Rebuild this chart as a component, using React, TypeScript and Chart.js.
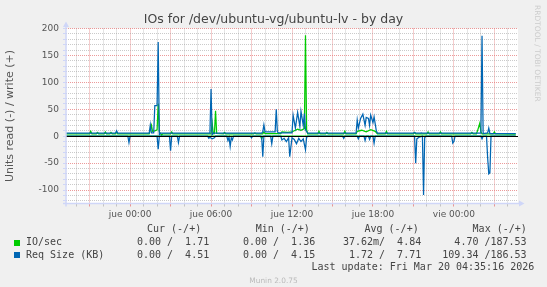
import React, { useEffect, useRef } from "react";
import { Chart, registerables } from "chart.js";

Chart.register(...registerables);

// x axis: minutes relative to "jue 00:00"
const X_MIN = -285;
const X_MAX = 1725;
const Y_MIN = -125;
const Y_MAX = 200;

const TITLE = "IOs for /dev/ubuntu-vg/ubuntu-lv - by day";
const Y_TITLE = "Units read (-) / write (+)";
const SIDE_TEXT = "RRDTOOL / TOBI OETIKER";
const LAST_UPDATE = "Last update: Fri Mar 20 04:35:16 2026";
const VERSION = "Munin 2.0.75";

const xLabelMinutes = [0, 360, 720, 1080, 1440];
const xLabelTexts = ["jue 00:00", "jue 06:00", "jue 12:00", "jue 18:00", "vie 00:00"];
const yLabelValues = [-100, -50, 0, 50, 100, 150, 200];

const legendHeaders = ["Cur (-/+)", "Min (-/+)", "Avg (-/+)", "Max (-/+)"];
const seriesNames = ["IO/sec", "Req Size (KB)"];
const curValues = ["0.00 /  1.71", "0.00 /  4.51"];
const minValues = ["0.00 /  1.36", "0.00 /  4.15"];
const avgValues = ["37.62m/  4.84", "1.72 /  7.71"];
const maxValues = ["4.70 /187.53", "109.34 /186.53"];

// [minute, value]
const ioWrite: [number, number][] = [
  [-285, 4.5], [-180, 4.5], [-175, 9], [-170, 4.5], [-150, 4.5], [-145, 7], [-140, 4.5],
  [-115, 4.5], [-110, 8], [-105, 4.5], [-90, 4.5], [-85, 7], [-80, 4.5], [-65, 4.5], [-60, 8],
  [-55, 4.5], [85, 4.5], [90, 12], [95, 20], [100, 9], [110, 10], [120, 12], [125, 60], [130, 8],
  [140, 2], [145, 4.5], [180, 4.5], [185, 8], [190, 4.5], [360, 4.5], [365, 24], [370, 5],
  [375, 5], [380, 47], [385, 5], [415, 4.5], [420, 7], [425, 4.5], [550, 4.5], [555, 6],
  [560, 4.5], [590, 4.5], [595, 8], [600, 5], [670, 5], [675, 8], [700, 7], [720, 8], [730, 10],
  [745, 13], [760, 11], [775, 14], [780, 187.5], [785, 12], [790, 4.5], [835, 4.5], [840, 9],
  [845, 4.5], [870, 4.5], [875, 7], [880, 4.5], [950, 4.5], [955, 9], [960, 4.5], [1005, 4.5],
  [1010, 9], [1030, 11], [1050, 8], [1070, 12], [1090, 9], [1100, 4.5], [1135, 4.5], [1140, 9],
  [1145, 4.5], [1260, 4.5], [1265, 7], [1270, 4.5], [1320, 4.5], [1325, 8], [1330, 4.5],
  [1375, 4.5], [1380, 8], [1385, 4.5], [1515, 4.5], [1520, 7], [1525, 4.5], [1540, 4.5],
  [1545, 10], [1555, 24], [1560, 8], [1565, 4.5], [1615, 4.5], [1620, 8], [1625, 4.5], [1715, 4],
];
const ioRead: [number, number][] = [
  [-285, 0], [580, 0], [585, 4.7], [590, 0], [1715, 0],
];
const reqWrite: [number, number][] = [
  [-285, 5.5], [-65, 5.5], [-60, 10], [-55, 5.5], [85, 5.5], [90, 21], [95, 6], [105, 6],
  [110, 57], [120, 57], [125, 175], [130, 3], [135, 5.5], [355, 5.5], [360, 87.5], [365, 3],
  [370, 5.5], [585, 5.5], [590, 8], [595, 21], [600, 8], [645, 8], [650, 50], [655, 8],
  [660, 6], [720, 6], [725, 39], [735, 15], [745, 44], [755, 18], [760, 46], [770, 20],
  [775, 42], [780, 12], [790, 5.5], [1005, 5.5], [1010, 30], [1015, 15], [1025, 33], [1035, 41],
  [1045, 20], [1050, 35], [1060, 33], [1065, 20], [1070, 39], [1080, 25], [1085, 36],
  [1095, 10], [1100, 5.5], [1260, 5.5], [1265, 7], [1270, 5.5], [1290, 5.5], [1295, 6],
  [1300, 5.5], [1560, 5.5], [1565, 186.5], [1570, 5], [1590, 6], [1595, 15], [1600, 5],
  [1715, 5],
];
const reqRead: [number, number][] = [
  [-285, 0], [-10, 0], [-5, 12], [0, 0], [120, 0], [125, 24], [130, 0], [175, 0], [180, 27],
  [185, 0], [210, 0], [215, 12], [220, 0], [345, 0], [350, 4], [355, 2], [365, 5], [375, 3],
  [380, 0], [430, 0], [435, 8], [440, 2], [445, 19], [450, 3], [455, 7], [460, 0], [535, 0],
  [540, 3], [545, 0], [585, 0], [590, 38], [595, 0], [625, 0], [630, 14], [635, 0], [670, 0],
  [675, 7], [685, 4], [695, 10], [705, 3], [710, 38], [715, 20], [720, 3], [730, 6], [740, 14],
  [750, 4], [760, 10], [770, 5], [780, 25], [785, 2], [790, 0], [945, 0], [950, 4], [955, 0],
  [1010, 0], [1015, 5], [1020, 0], [1040, 0], [1045, 8], [1050, 0], [1060, 0], [1065, 6],
  [1070, 0], [1080, 0], [1085, 13], [1090, 0], [1265, 0], [1270, 50], [1275, 5], [1285, 2],
  [1300, 0], [1305, 109.3], [1310, 3], [1315, 0], [1430, 0], [1435, 13], [1440, 10], [1445, 0],
  [1560, 0], [1565, 5], [1570, 0], [1585, 0], [1590, 40], [1595, 70], [1600, 68], [1605, 0],
  [1715, 0],
];

const GREEN = "#00CC00";
const BLUE = "#0066B3";
const AXIS = "#CFD6F8";
const MAJOR = "rgba(230,120,120,0.75)";
const MINOR = "rgba(150,150,150,0.5)";
const TEXT = "#555555";

const W = 547;
const CH = 225;

const bgPlugin = {
  id: "bg",
  beforeDraw(chart: any) {
    const { ctx, chartArea } = chart;
    ctx.save();
    ctx.fillStyle = "#ffffff";
    ctx.fillRect(chartArea.left, chartArea.top, chartArea.right - chartArea.left, chartArea.bottom - chartArea.top);
    ctx.restore();
  },
};

const decorPlugin = {
  id: "decor",
  afterDatasetsDraw(chart: any) {
    const { ctx, chartArea, scales } = chart;
    const y0 = Math.round(scales.y.getPixelForValue(0)) + 0.5;
    ctx.save();
    ctx.strokeStyle = "#000000";
    ctx.lineWidth = 1.2;
    ctx.beginPath();
    ctx.moveTo(chartArea.left, y0);
    ctx.lineTo(chartArea.right, y0);
    ctx.stroke();
    const L = chartArea.left;
    const B = chartArea.bottom;
    ctx.strokeStyle = AXIS;
    ctx.fillStyle = AXIS;
    ctx.lineWidth = 1.5;
    ctx.beginPath();
    ctx.moveTo(L, B + 3);
    ctx.lineTo(L, chartArea.top - 3);
    ctx.moveTo(L - 3, B);
    ctx.lineTo(chartArea.right + 2, B);
    ctx.stroke();
    ctx.beginPath();
    ctx.moveTo(L - 3, chartArea.top - 1.5);
    ctx.lineTo(L + 3, chartArea.top - 1.5);
    ctx.lineTo(L, chartArea.top - 7);
    ctx.closePath();
    ctx.fill();
    ctx.beginPath();
    ctx.moveTo(chartArea.right + 1, B - 3);
    ctx.lineTo(chartArea.right + 1, B + 3);
    ctx.lineTo(chartArea.right + 6.5, B);
    ctx.closePath();
    ctx.fill();
    ctx.restore();
  },
};

const toPoints = (arr: [number, number][], sign: number) =>
  arr.map(([x, v]) => ({ x, y: sign * v }));

export default function App() {
  const ref = useRef<HTMLCanvasElement>(null);

  useEffect(() => {
    const canvas = ref.current;
    if (!canvas) return;
    const mk = (data: [number, number][], sign: number, color: string) => ({
      data: toPoints(data, sign),
      borderColor: color,
      backgroundColor: color,
      borderWidth: 1.25,
      pointRadius: 0,
      fill: false,
      tension: 0,
    });
    const chart = new Chart(canvas, {
      type: "line",
      data: {
        datasets: [
          mk(reqWrite, 1, BLUE),
          mk(reqRead, -1, BLUE),
          mk(ioWrite, 1, GREEN),
          mk(ioRead, -1, GREEN),
        ],
      },
      options: {
        animation: false,
        responsive: false,
        maintainAspectRatio: false,
        devicePixelRatio: 1,
        layout: { padding: { left: 0, right: W - 518, top: 28.5, bottom: 0 } },
        plugins: {
          legend: { display: false },
          tooltip: { enabled: false },
          title: { display: false },
        },
        scales: {
          x: {
            type: "linear",
            min: X_MIN,
            max: X_MAX,
            afterBuildTicks: (scale: any) => {
              const t = [];
              for (let m = -240; m <= 1680; m += 60) t.push({ value: m });
              scale.ticks = t;
            },
            afterFit: (scale: any) => {
              scale.height = CH - 203.5;
            },
            ticks: {
              autoSkip: false,
              maxRotation: 0,
              minRotation: 0,
              padding: 3,
              color: TEXT,
              font: { family: "DejaVu Sans", size: 9 },
              callback: (v: any) => {
                const i = xLabelMinutes.indexOf(Number(v));
                return i >= 0 ? xLabelTexts[i] : "";
              },
            },
            grid: {
              color: (c: any) => (c.tick && c.tick.value % 180 === 0 ? MAJOR : MINOR),
              tickColor: (c: any) => (c.tick && c.tick.value % 180 === 0 ? MAJOR : MINOR),
              tickLength: 3,
              lineWidth: 1,
            },
            border: { display: false, dash: [1, 1] },
          },
          y: {
            type: "linear",
            min: Y_MIN,
            max: Y_MAX,
            afterBuildTicks: (scale: any) => {
              const t = [];
              for (let v = -120; v <= 200; v += 10) t.push({ value: v });
              scale.ticks = t;
            },
            afterFit: (scale: any) => {
              scale.width = 66;
            },
            title: {
              display: true,
              text: Y_TITLE,
              color: TEXT,
              font: { family: "DejaVu Sans", size: 11 },
              padding: { top: 4, bottom: 0 },
            },
            ticks: {
              autoSkip: false,
              padding: 4,
              color: TEXT,
              font: { family: "DejaVu Sans", size: 9 },
              callback: (v: any) => (yLabelValues.includes(Number(v)) ? String(v) : ""),
            },
            grid: {
              color: (c: any) => (c.tick && c.tick.value % 50 === 0 ? MAJOR : MINOR),
              tickColor: AXIS,
              tickLength: 3,
              lineWidth: 1,
            },
            border: { display: false, dash: [1, 1] },
          },
        },
      },
      plugins: [bgPlugin, decorPlugin],
    } as any);
    return () => chart.destroy();
  }, []);

  const mono: React.CSSProperties = {
    position: "absolute",
    fontFamily: '"DejaVu Sans Mono", monospace',
    fontSize: 10,
    lineHeight: "12px",
    color: "#444444",
    whiteSpace: "pre",
  };
  const headerLefts = [147, 255.7, 364.5, 472.6];
  const colRights = [209.2, 315.2, 421.2, 526.6];
  const rowTops = [236.3, 248.9];
  const rowColors = [GREEN, BLUE];
  const columns = [curValues, minValues, avgValues, maxValues];

  return (
    <div
      style={{
        position: "fixed",
        left: 0,
        top: 0,
        width: W,
        height: 287,
        background: "#f0f0f0",
        overflow: "hidden",
        fontFamily: '"DejaVu Sans", sans-serif',
      }}
    >
      <canvas ref={ref} width={W} height={CH} style={{ position: "absolute", left: 0, top: 0, width: W, height: CH }} />
      <div
        style={{
          position: "absolute",
          left: 0,
          top: 11.8,
          width: W,
          textAlign: "center",
          fontSize: 12.5,
          lineHeight: "14px",
          color: "#444444",
          whiteSpace: "pre",
        }}
      >
        {TITLE}
      </div>
      <div
        style={{
          position: "absolute",
          left: 532.8,
          top: 5,
          width: 9,
          writingMode: "vertical-rl",
          fontSize: 7.5,
          lineHeight: "9px",
          color: "#cccccc",
          whiteSpace: "pre",
        }}
      >
        {SIDE_TEXT}
      </div>
      {legendHeaders.map((h, i) => (
        <div key={"h" + i} style={{ ...mono, left: headerLefts[i], top: 223 }}>
          {h}
        </div>
      ))}
      {seriesNames.map((name, r) => (
        <React.Fragment key={"r" + r}>
          <div
            style={{
              position: "absolute",
              left: 14,
              top: rowTops[r] + 3.2,
              width: 6,
              height: 6,
              background: rowColors[r],
            }}
          />
          <div style={{ ...mono, left: 26, top: rowTops[r] }}>{name}</div>
          {columns.map((col, c) => (
            <div key={"c" + c} style={{ ...mono, right: W - colRights[c], top: rowTops[r] }}>
              {col[r]}
            </div>
          ))}
        </React.Fragment>
      ))}
      <div style={{ ...mono, left: 311.5, top: 260.7 }}>{LAST_UPDATE}</div>
      <div
        style={{
          position: "absolute",
          left: 0,
          width: W,
          top: 275.7,
          textAlign: "center",
          fontSize: 7.4,
          lineHeight: "9px",
          color: "#bbbbbb",
        }}
      >
        {VERSION}
      </div>
    </div>
  );
}
